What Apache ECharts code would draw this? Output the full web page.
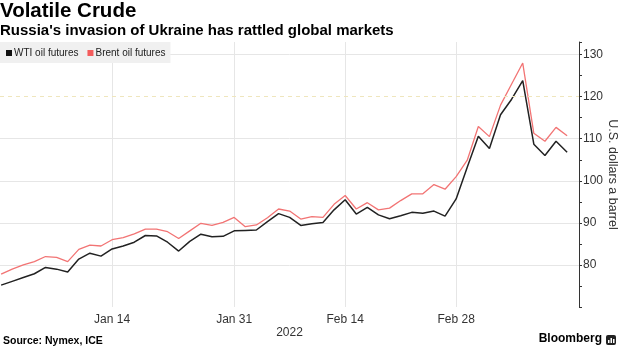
<!DOCTYPE html>
<html><head><meta charset="utf-8">
<script src="https://cdn.jsdelivr.net/npm/echarts@6/dist/echarts.min.js"></script>
<style>html,body{margin:0;padding:0;background:#fff}#c{width:620px;height:348px}</style>
</head><body><div id="c"></div>
<script>
const dates = ['Dec 31','Jan 3','Jan 4','Jan 5','Jan 6','Jan 7','Jan 10','Jan 11','Jan 12','Jan 13',
  'Jan 14','Jan 17','Jan 18','Jan 19','Jan 20','Jan 21','Jan 24','Jan 25','Jan 26','Jan 27',
  'Jan 28','Jan 31','Feb 1','Feb 2','Feb 3','Feb 4','Feb 7','Feb 8','Feb 9','Feb 10',
  'Feb 11','Feb 14','Feb 15','Feb 16','Feb 17','Feb 18','Feb 21','Feb 22','Feb 23','Feb 24',
  'Feb 25','Feb 28','Mar 1','Mar 2','Mar 3','Mar 4','Mar 7','Mar 8','Mar 9','Mar 10',
  'Mar 11','Mar 14'];
const wti = [75.2,76.1,77.0,77.9,79.4,79.0,78.3,81.4,82.8,82.1,
  83.8,84.5,85.4,87.0,86.9,85.4,83.3,85.6,87.3,86.7,
  86.8,88.1,88.2,88.3,90.3,92.2,91.3,89.4,89.8,90.1,
  93.1,95.5,92.1,93.7,91.9,91.0,91.7,92.5,92.3,92.8,
  91.6,95.7,103.2,110.6,107.7,115.7,119.4,123.8,108.7,106.0,
  109.4,106.8];
const brent = [77.8,79.0,80.0,80.8,82.0,81.8,80.8,83.7,84.7,84.5,
  86.0,86.5,87.4,88.5,88.5,87.9,86.3,88.1,89.9,89.4,
  90.1,91.3,89.1,89.5,91.2,93.3,92.8,90.9,91.5,91.3,
  94.4,96.5,93.3,94.8,93.1,93.5,95.3,96.9,96.9,99.1,
  98.0,101.0,104.9,112.9,110.5,118.0,123.0,128.0,111.3,109.4,
  112.7,110.7];
const xTickLabels = ['Jan 14','Jan 31','Feb 14','Feb 28'];
const yLabels = [80,90,100,110,120,130];
const refLevel = 120;

const xTickIdx = xTickLabels.map(d => dates.indexOf(d));
const F = '"Liberation Sans", Arial, sans-serif';
// ticks every 5 from 70 to 130, plus the axis end at 133
const splitColor = (v) => (v % 10 === 0 && v !== 70 && v !== refLevel && v <= 130) ? '#e6e6e6' : 'rgba(0,0,0,0)';
const splitColors = [];
for (let v = 70; v <= 130; v += 5) splitColors.push(splitColor(v));
splitColors.push('rgba(0,0,0,0)');

const chart = echarts.init(document.getElementById('c'), null, {renderer: 'canvas'});
chart.setOption({
  animation: false,
  backgroundColor: '#fff',
  textStyle: {fontFamily: F},
  title: [
    {text: 'Volatile Crude', left: 0, top: 1, padding: 0,
      textStyle: {fontSize: 20.5, fontWeight: 'bold', color: '#000', fontFamily: F}},
    {text: "Russia's invasion of Ukraine has rattled global markets", left: 0, top: 23, padding: 0,
      textStyle: {fontSize: 15, fontWeight: 'bold', color: '#000', fontFamily: F}},
    {text: 'Source: Nymex, ICE', left: 3, top: 336, padding: 0,
      textStyle: {fontSize: 10.5, fontWeight: 'bold', color: '#000', fontFamily: F}},
    {text: 'Bloomberg', right: 18, top: 333, padding: 0,
      textStyle: {fontSize: 12, fontWeight: 'bold', color: '#000', fontFamily: F}}
  ],
  graphic: [
    {type: 'rect', left: 606, top: 335, shape: {width: 10, height: 10, r: 2}, style: {fill: '#222'}},
    {type: 'rect', left: 608, top: 340, shape: {width: 1.5, height: 3}, style: {fill: '#fff'}},
    {type: 'rect', left: 610.5, top: 338, shape: {width: 1.5, height: 5}, style: {fill: '#fff'}},
    {type: 'rect', left: 613, top: 339, shape: {width: 1.5, height: 4}, style: {fill: '#fff'}}
  ],
  legend: {
    left: 0, top: 42, backgroundColor: '#f0f0f0', padding: [6, 5, 5, 6],
    itemWidth: 6, itemHeight: 6, itemGap: 9, icon: 'rect',
    textStyle: {fontSize: 10, color: '#222', fontFamily: F, padding: [0, 0, 0, -3]},
    data: ['WTI oil futures', 'Brent oil futures']
  },
  grid: {left: 0, right: 41, top: 42, height: 265, containLabel: false, outerBoundsMode: 'none'},
  xAxis: {
    type: 'value', min: -0.1, max: 52.07,
    axisLine: {show: false},
    axisTick: {show: false, customValues: xTickIdx},
    axisLabel: {customValues: xTickIdx, formatter: v => dates[v], margin: 7, fontSize: 12, color: '#333', fontFamily: F},
    splitLine: {show: true, lineStyle: {color: '#e6e6e6', width: 1}},
    name: '2022', nameLocation: 'middle', nameGap: 20, nameMoveOverlap: false,
    nameTextStyle: {fontSize: 12, color: '#333', fontFamily: F}
  },
  yAxis: {
    type: 'value', position: 'right', min: 70, max: 133, interval: 5,
    axisLine: {show: true, onZero: false, lineStyle: {color: '#333', width: 1}},
    axisTick: {show: true, length: 3, lineStyle: {color: '#333'}},
    axisLabel: {margin: 4, fontSize: 12, color: '#333', fontFamily: F,
      formatter: v => (yLabels.indexOf(v) >= 0 ? String(v) : '')},
    splitLine: {show: true, lineStyle: {color: splitColors, width: 1}},
    name: 'U.S. dollars a barrel', nameLocation: 'middle', nameRotate: -90, nameGap: 27,
    nameMoveOverlap: false,
    nameTextStyle: {fontSize: 12.5, color: '#333', fontFamily: F}
  },
  series: [
    {
      name: 'WTI oil futures', type: 'line', showSymbol: false, z: 3,
      data: wti.map((v, i) => [i, v]),
      itemStyle: {color: '#111'},
      lineStyle: {color: '#222', width: 1.5},
      markLine: {
        silent: true, symbol: 'none', label: {show: false},
        lineStyle: {type: [4, 4], color: '#efe6bd', width: 1},
        data: [{yAxis: refLevel}]
      }
    },
    {
      name: 'Brent oil futures', type: 'line', showSymbol: false, z: 2,
      data: brent.map((v, i) => [i, v]),
      itemStyle: {color: '#f45c5c'},
      lineStyle: {color: '#f27474', width: 1.3}
    }
  ]
});
</script>
</body></html>
